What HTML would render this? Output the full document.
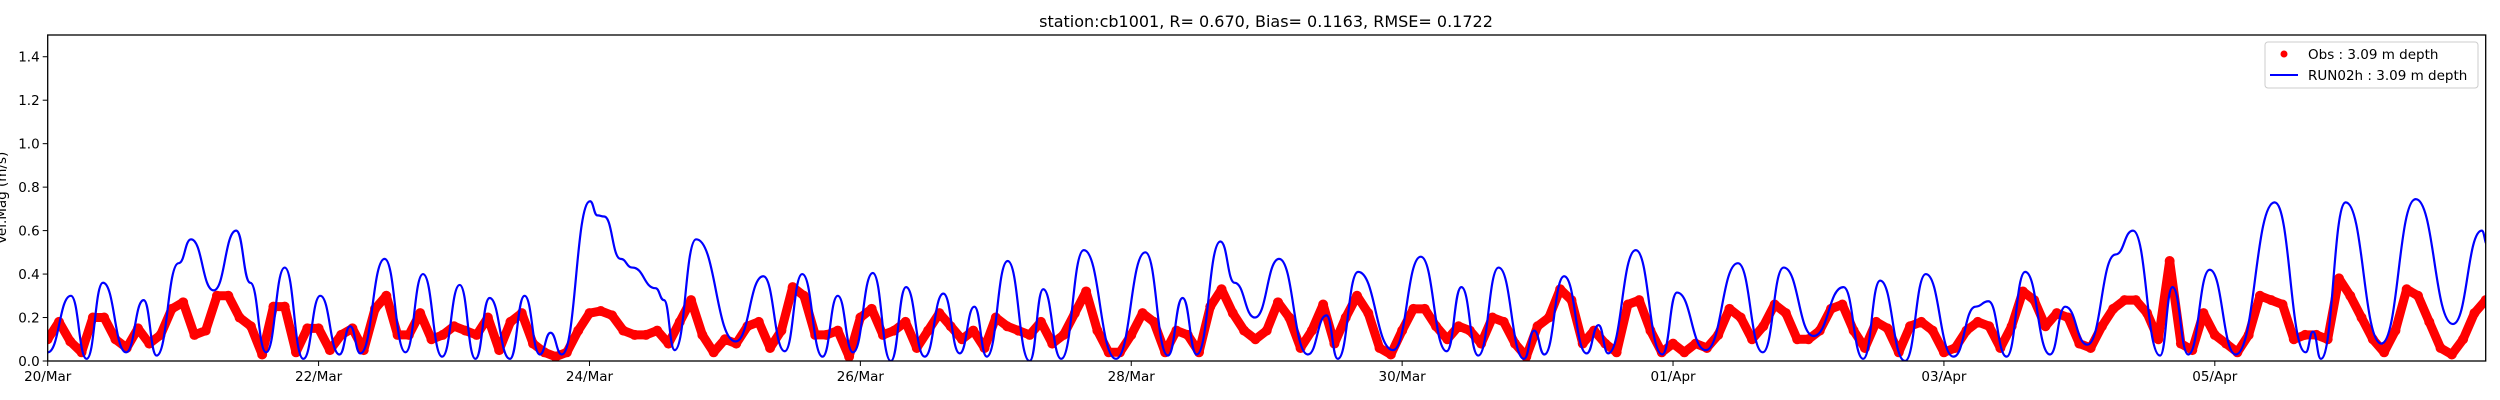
<!DOCTYPE html>
<html>
<head>
<meta charset="utf-8">
<style>
  html,body{margin:0;padding:0;background:#fff;}
  svg{display:block;font-family:"DejaVu Sans","Liberation Sans",sans-serif;}
</style>
</head>
<body>
<svg id="chart" width="2500" height="400" viewBox="0 0 2500 400" xmlns="http://www.w3.org/2000/svg">
  <rect x="0" y="0" width="2500" height="400" fill="#fff"/>
  <text x="1266" y="27" text-anchor="middle" font-size="16" fill="#000">station:cb1001, R= 0.670, Bias= 0.1163, RMSE= 0.1722</text>
  <text transform="translate(6,198) rotate(-90)" text-anchor="middle" font-size="13.5" fill="#000">Vel.Mag (m/s)</text>
  <defs><clipPath id="plotclip"><rect x="47.7" y="35" width="2438" height="326"/></clipPath></defs>
  <g id="yticks"></g>
  <g id="xticks"></g>
  <g id="plot" clip-path="url(#plotclip)"></g>
  <rect x="47.7" y="35" width="2438" height="326" fill="none" stroke="#000" stroke-width="1.3"/>
  <g>
    <rect x="2265" y="42" width="213" height="46" rx="3" fill="#fff" fill-opacity="0.8" stroke="#ccc" stroke-width="1"/>
    <circle cx="2284" cy="54" r="3.5" fill="#ff0000"/>
    <text x="2308" y="59" font-size="13.5" fill="#000">Obs : 3.09 m depth</text>
    <line x1="2270" y1="75" x2="2298" y2="75" stroke="#0000ff" stroke-width="2"/>
    <text x="2308" y="80" font-size="13.5" fill="#000">RUN02h : 3.09 m depth</text>
  </g>
</svg>
<script>
// ---- data ----
const xTickLabels = ["20/Mar","22/Mar","24/Mar","26/Mar","28/Mar","30/Mar","01/Apr","03/Apr","05/Apr"];
const xTickHours = [0,48,96,144,192,240,288,336,384];
const yTickValues = [0.0,0.2,0.4,0.6,0.8,1.0,1.2,1.4];
const yTickLabels = ["0.0","0.2","0.4","0.6","0.8","1.0","1.2","1.4"];
const obsStepHours = 2;
const obsValues = [
.10,.18,.09,.04,.20,.20,.10,.06,.15,.08,.12,.24,.27,.12,.14,.30,.30,.20,.16,.03,.25,.25,.04,.15,.15,.05,.12,
.15,.05,.24,.30,.12,.12,.22,.10,.12,.16,.14,.12,.20,.05,.18,.22,.08,.04,.02,.04,.14,.22,.23,.21,.14,.12,.12,
.14,.08,.18,.28,.12,.04,.10,.08,.16,.18,.06,.14,.34,.30,.12,.12,.14,.02,.20,.24,.12,.14,.18,.06,.14,.22,.16,
.10,.14,.06,.20,.16,.14,.12,.18,.08,.12,.22,.32,.14,.04,.04,.12,.22,.18,.04,.14,.12,.04,.25,.33,.22,.14,.10,
.14,.27,.20,.06,.14,.26,.08,.20,.30,.22,.06,.03,.14,.24,.24,.16,.10,.16,.14,.08,.20,.18,.08,.02,.16,.20,.33,.28,
.08,.14,.08,.04,.26,.28,.14,.04,.08,.04,.08,.06,.12,.24,.20,.10,.16,.26,.22,.10,.10,.14,.24,.26,.14,.06,.18,
.15,.04,.16,.18,.14,.04,.06,.14,.18,.16,.06,.16,.32,.28,.16,.22,.20,.08,.06,.16,.24,.28,.28,.22,.10,.46,.08,
.05,.22,.12,.08,.04,.12,.30,.28,.26,.10,.12,.12,.10,.38,.30,.20,.10,.04,.14,.33,.30,.18,.06,.03,.10,.22,.28
];
const modelHours = [0,4.1,6.9,9.8,13.9,17.0,19.3,23.2,25.4,29.4,33.4,35.9,38.7,42.0,45.3,48.3,51.7,53.6,55.4,59.7,63.4,66.5,69.9,73.0,75.8,78.3,81.9,84.5,87.2,89.1,91.1,96.1,97.4,98.6,101.5,103.6,107.7,109.2,111.1,114.9,121.9,126.8,130.6,133.7,137.3,140.0,142.7,146.2,149.4,152.1,155.4,158.7,161.6,164.2,166.4,170.1,174.0,176.4,179.6,183.6,189.3,194.5,198.5,201.1,203.6,207.8,210.3,213.9,218.2,223.3,226.6,228.6,232.2,238.4,243.3,247.9,250.5,253.5,257.1,261.6,263.4,265.2,268.7,272.7,274.8,276.5,281.4,286.1,288.7,293.8,299.5,303.9,307.6,312.9,318.2,321.7,324.7,329.1,332.8,337.7,341.6,343.9,347.1,350.4,354.8,357.5,361.4,366.4,369.5,374.3,376.5,379.3,383.1,387.7,394.6,400.1,401.4,402.8,407.2,413.5,419.6,426.2,431.3,432.3];
const modelValues = [.04,.30,.01,.36,.04,.28,.025,.45,.56,.325,.60,.36,.04,.43,.01,.30,.03,.16,.035,.47,.04,.40,.02,.35,.01,.29,.01,.30,.03,.13,.03,.735,.67,.665,.47,.43,.335,.28,.05,.56,.09,.39,.045,.40,.02,.30,.04,.405,0,.34,.02,.31,.035,.25,.02,.46,0,.33,.01,.51,.01,.50,.025,.29,.03,.55,.36,.20,.47,.03,.21,.01,.41,.05,.48,.045,.34,.025,.43,.01,.14,.03,.39,.035,.165,.035,.51,.03,.315,.05,.45,.04,.43,.115,.34,.01,.37,0,.40,.02,.25,.275,.02,.41,.03,.25,.075,.49,.60,.025,.34,.03,.42,.03,.73,.04,.135,.01,.73,.08,.745,.17,.60,.535];

// ---- axes ----
const X0 = 47.7, X1 = 2485.7, Y0 = 361, Y1 = 35;
const H_MAX = 432, V_MAX = 1.5;
function xs(h){ return X0 + (X1 - X0) * h / H_MAX; }
function ys(v){ return Y0 - (Y0 - Y1) * v / V_MAX; }
const NS = "http://www.w3.org/2000/svg";
function mk(tag, attrs){ const e = document.createElementNS(NS, tag); for (const k in attrs) e.setAttribute(k, attrs[k]); return e; }

const yg = document.getElementById('yticks');
yTickValues.forEach((v, i) => {
  const t = mk('line', {x1: X0 - 5, x2: X0, y1: ys(v), y2: ys(v), stroke: '#000', 'stroke-width': 1});
  
  
  yg.appendChild(t);
  const l = mk('text', {x: X0 - 8, y: ys(v) + 5, 'text-anchor': 'end', 'font-size': 13.5, fill: '#000'});
  l.textContent = yTickLabels[i];
  
  
  yg.appendChild(l);
});
const xg = document.getElementById('xticks');
xTickHours.forEach((h, i) => {
  const t = mk('line', {x1: xs(h), x2: xs(h), y1: Y0, y2: Y0 + 5, stroke: '#000', 'stroke-width': 1});
  
  
  xg.appendChild(t);
  const l = mk('text', {x: xs(h), y: Y0 + 20, 'text-anchor': 'middle', 'font-size': 13.5, fill: '#000'});
  l.textContent = xTickLabels[i];
  
  
  xg.appendChild(l);
});

// ---- series ----
const plot = document.getElementById('plot');
let od = '';
obsValues.forEach((v, i) => { od += (i ? 'L' : 'M') + xs(i * obsStepHours).toFixed(2) + ',' + ys(v).toFixed(2); });
const obsBand = mk('path', {d: od, fill: 'none', stroke: '#ff0000', 'stroke-width': 9, 'stroke-linejoin': 'round', 'stroke-linecap': 'round'});


plot.appendChild(obsBand);
obsValues.forEach((v, i) => {
  const c = mk('circle', {cx: xs(i * obsStepHours), cy: ys(v), r: 5, fill: '#ff0000'});
  
  
  plot.appendChild(c);
});
let md = 'M' + xs(modelHours[0]) + ',' + ys(modelValues[0]);
for (let i = 1; i < modelHours.length; i++) {
  const xa = xs(modelHours[i-1]), ya = ys(modelValues[i-1]);
  const xb = xs(modelHours[i]), yb = ys(modelValues[i]);
  const dx = (xb - xa) / 2;
  md += 'C' + (xa + dx).toFixed(2) + ',' + ya.toFixed(2) + ' ' + (xb - dx).toFixed(2) + ',' + yb.toFixed(2) + ' ' + xb.toFixed(2) + ',' + yb.toFixed(2);
}
const model = mk('path', {d: md, fill: 'none', stroke: '#0000ff', 'stroke-width': 2.2, 'stroke-linejoin': 'round'});


plot.appendChild(model);
</script>
</body>
</html>
